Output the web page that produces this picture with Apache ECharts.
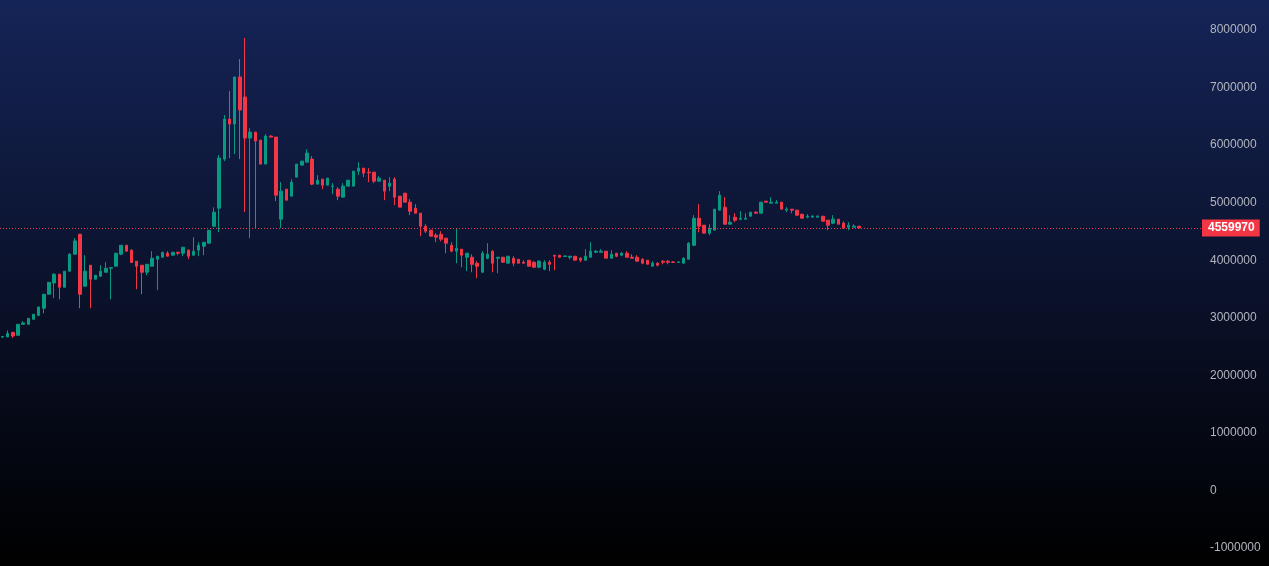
<!DOCTYPE html>
<html lang="zh">
<head>
<meta charset="UTF-8">
<title>K线图</title>
<script src="https://cdn.jsdelivr.net/npm/echarts@6/dist/echarts.min.js"></script>
<style>
    html, body { margin: 0; padding: 0; background: #000; }
    #main { width: 1269px; height: 566px; }
</style>
</head>
<body>
<div id="main"></div>
<script>
// 开盘 / 收盘 / 最低 / 最高
var openData = [
    2665000, 2667000, 2748000, 2696000, 2887000, 2887000, 2974000, 3043000, 3165000, 3409000,
    3605000, 3757000, 3530000, 3809000, 4104000, 4452000, 3548000, 3913000, 3670000, 3722000,
    3791000, 3861000, 3896000, 4104000, 4260000, 4174000, 3983000, 3913000, 3791000, 3896000,
    4017000, 4052000, 4122000, 4087000, 4139000, 4122000, 4174000, 4087000, 4174000, 4243000,
    4296000, 4590000, 4904000, 5757000, 6452000, 6365000, 7183000, 6835000, 6122000, 6226000,
    6087000, 5670000, 6157000, 6139000, 4713000, 5235000, 5113000, 5443000, 5652000, 5704000,
    5757000, 5322000, 5409000, 5304000, 5280000, 5235000, 5096000, 5287000, 5287000, 5548000,
    5600000, 5530000, 5530000, 5374000, 5391000, 5287000, 5409000, 5113000, 5165000, 5009000,
    4904000, 4817000, 4591000, 4522000, 4435000, 4452000, 4383000, 4260000, 4157000, 4191000,
    4052000, 4052000, 3948000, 3791000, 4035000, 4157000, 4035000, 4052000, 3948000, 4035000,
    4017000, 3965000, 4000000, 3965000, 3878000, 3843000, 3965000, 4087000, 4087000, 4065000,
    4052000, 4070000, 4035000, 4000000, 4052000, 4139000, 4139000, 4157000, 4035000, 4122000,
    4087000, 4122000, 4052000, 4052000, 4017000, 4000000, 3896000, 3948000, 3983000, 3983000,
    3970000, 3960000, 3948000, 4017000, 4260000, 4730000, 4609000, 4470000, 4522000, 4870000,
    4922000, 4626000, 4748000, 4713000, 4713000, 4765000, 4835000, 4817000, 5026000, 4991000,
    4991000, 5009000, 4870000, 4887000, 4870000, 4800000, 4748000, 4748000, 4748000, 4765000,
    4696000, 4643000, 4713000, 4643000, 4574000, 4574000, 4591000
];
var closeData = [
    2675000, 2725000, 2683000, 2887000, 2910000, 2991000, 3060000, 3188000, 3409000, 3617000,
    3757000, 3530000, 3809000, 4104000, 4336000, 3409000, 3809000, 3670000, 3739000, 3809000,
    3861000, 3873000, 4122000, 4260000, 4157000, 3960000, 3896000, 3791000, 3930000, 4035000,
    4070000, 4139000, 4070000, 4139000, 4122000, 4226000, 4070000, 4157000, 4260000, 4313000,
    4520000, 4835000, 5774000, 6452000, 6365000, 7183000, 6609000, 6122000, 6226000, 6070000,
    5670000, 6157000, 6139000, 5130000, 5200000, 5043000, 5357000, 5670000, 5722000, 5861000,
    5322000, 5391000, 5304000, 5426000, 5290000, 5113000, 5287000, 5391000, 5548000, 5600000,
    5513000, 5520000, 5374000, 5426000, 5200000, 5339000, 5096000, 4922000, 5009000, 4850000,
    4817000, 4591000, 4504000, 4417000, 4400000, 4365000, 4296000, 4157000, 4209000, 4087000,
    4122000, 3930000, 3896000, 4122000, 4104000, 3948000, 4052000, 3965000, 4070000, 3948000,
    3948000, 3948000, 3896000, 3878000, 3983000, 3965000, 3930000, 4070000, 4052000, 4075000,
    4070000, 4000000, 4000000, 4070000, 4157000, 4157000, 4157000, 4035000, 4104000, 4070000,
    4122000, 4052000, 4035000, 3983000, 3948000, 3930000, 3948000, 3913000, 3965000, 3965000,
    3960000, 3970000, 4035000, 4296000, 4730000, 4591000, 4470000, 4557000, 4887000, 5130000,
    4626000, 4661000, 4696000, 4730000, 4730000, 4835000, 4817000, 5009000, 5009000, 5009000,
    5009000, 4887000, 4887000, 4870000, 4783000, 4730000, 4765000, 4765000, 4765000, 4678000,
    4609000, 4713000, 4626000, 4557000, 4609000, 4591000, 4559970
];
var lowData = [
    2650000, 2667000, 2650000, 2696000, 2887000, 2887000, 2974000, 3026000, 3078000, 3409000,
    3339000, 3320000, 3530000, 3809000, 4104000, 3165000, 3548000, 3165000, 3670000, 3722000,
    3791000, 3320000, 3896000, 4087000, 4157000, 3960000, 3496000, 3409000, 3739000, 3896000,
    3478000, 4052000, 4070000, 4087000, 4087000, 4070000, 4017000, 4087000, 4070000, 4087000,
    4296000, 4590000, 4487000, 5722000, 5774000, 5843000, 5757000, 4835000, 4383000, 4557000,
    5670000, 5670000, 6139000, 5026000, 4557000, 5043000, 5113000, 5443000, 5652000, 5704000,
    5304000, 5322000, 5235000, 5304000, 5148000, 5043000, 5096000, 5287000, 5287000, 5478000,
    5443000, 5357000, 5339000, 5374000, 5043000, 5200000, 4957000, 4922000, 5009000, 4783000,
    4817000, 4417000, 4470000, 4417000, 4313000, 4330000, 4122000, 4139000, 3948000, 3878000,
    3809000, 3791000, 3687000, 3791000, 4017000, 3791000, 3774000, 3965000, 3948000, 3896000,
    3948000, 3948000, 3896000, 3878000, 3861000, 3826000, 3809000, 3826000, 4052000, 4065000,
    4017000, 4000000, 3965000, 4000000, 4052000, 4122000, 4139000, 4035000, 4035000, 4052000,
    4070000, 4052000, 4035000, 3983000, 3930000, 3930000, 3896000, 3896000, 3930000, 3930000,
    3960000, 3960000, 3948000, 4017000, 4243000, 4487000, 4470000, 4435000, 4522000, 4870000,
    4626000, 4626000, 4661000, 4696000, 4713000, 4765000, 4817000, 4817000, 5009000, 4991000,
    4991000, 4887000, 4835000, 4817000, 4765000, 4730000, 4730000, 4748000, 4748000, 4678000,
    4522000, 4626000, 4626000, 4557000, 4522000, 4574000, 4559970
];
var highData = [
    2675000, 2780000, 2748000, 2887000, 2940000, 2991000, 3060000, 3188000, 3409000, 3617000,
    3774000, 3757000, 3809000, 4120000, 4383000, 4452000, 4087000, 3913000, 3739000, 3913000,
    3965000, 3873000, 4122000, 4260000, 4260000, 4190000, 3983000, 3913000, 3930000, 4157000,
    4070000, 4139000, 4157000, 4139000, 4139000, 4226000, 4190000, 4400000, 4313000, 4313000,
    4520000, 4920000, 5826000, 6522000, 6939000, 7183000, 7496000, 7861000, 6296000, 6226000,
    6087000, 6191000, 6174000, 6139000, 5357000, 5235000, 5409000, 5670000, 5722000, 5930000,
    5809000, 5478000, 5409000, 5426000, 5339000, 5270000, 5339000, 5391000, 5548000, 5704000,
    5600000, 5600000, 5530000, 5461000, 5391000, 5443000, 5443000, 5113000, 5165000, 5061000,
    4974000, 4817000, 4626000, 4522000, 4470000, 4504000, 4383000, 4313000, 4557000, 4191000,
    4122000, 4104000, 3983000, 4157000, 4296000, 4174000, 4052000, 4052000, 4070000, 4070000,
    4017000, 4000000, 4000000, 3983000, 4000000, 4000000, 4000000, 4087000, 4087000, 4075000,
    4070000, 4070000, 4052000, 4191000, 4313000, 4174000, 4191000, 4157000, 4174000, 4122000,
    4139000, 4157000, 4104000, 4087000, 4035000, 4000000, 3983000, 3965000, 4000000, 4000000,
    3983000, 3983000, 4052000, 4313000, 4783000, 4974000, 4609000, 4626000, 4887000, 5200000,
    5096000, 4783000, 4817000, 4852000, 4817000, 4835000, 4852000, 5009000, 5026000, 5096000,
    5044000, 5009000, 4922000, 4887000, 4870000, 4800000, 4800000, 4783000, 4783000, 4765000,
    4696000, 4783000, 4713000, 4678000, 4661000, 4626000, 4591000
];
// 横轴共 233 个位置，右侧留空
var categoryCount = 233;
var categories = [];
for (var c = 0; c < categoryCount; c++) {
    categories.push(String(c + 1));
}
var yTicks = { min: -1000000, max: 8000000, step: 1000000 };
var lastPrice = 4559970;

var upColor = '#089981';
var downColor = '#f23645';

window.onload = function () {
    var myChart = echarts.init(document.getElementById('main'));

    var kData = [];
    for (var i = 0; i < openData.length; i++) {
        kData.push([openData[i], closeData[i], lowData[i], highData[i]]);
    }

    var option = {
        animation: false,
        backgroundColor: new echarts.graphic.LinearGradient(0, 0, 0, 1, [
            { offset: 0, color: '#152457' },
            { offset: 1, color: '#000000' }
        ]),
        grid: { left: 0, right: 67, top: 30, bottom: 18 },
        xAxis: {
            type: 'category',
            data: categories,
            show: false
        },
        yAxis: {
            type: 'value',
            position: 'right',
            min: yTicks.min,
            max: yTicks.max,
            interval: yTicks.step,
            splitLine: { show: false },
            axisLine: { show: false },
            axisTick: { show: false },
            axisLabel: {
                color: '#b2b5be',
                fontSize: 12,
                fontFamily: 'Liberation Sans',
                margin: 8,
                formatter: function (v) {
                    return String(v);
                }
            }
        },
        series: [
            {
                name: 'K线',
                type: 'candlestick',
                data: kData,
                barWidth: 3,
                itemStyle: {
                    color: upColor,
                    color0: downColor,
                    borderColor: upColor,
                    borderColor0: downColor,
                    borderWidth: 1
                },
                markLine: {
                    silent: true,
                    symbol: ['none', 'none'],
                    data: [{ yAxis: lastPrice }],
                    lineStyle: { color: downColor, type: [1, 2], width: 1 },
                    label: {
                        position: 'end',
                        distance: 0,
                        formatter: '{c}',
                        color: '#ffffff',
                        backgroundColor: downColor,
                        fontWeight: 'bold',
                        fontSize: 12,
                        fontFamily: 'Liberation Sans',
                        padding: [3, 5, 2, 6]
                    }
                }
            }
        ]
    };

    myChart.setOption(option);
};
</script>
</body>
</html>
